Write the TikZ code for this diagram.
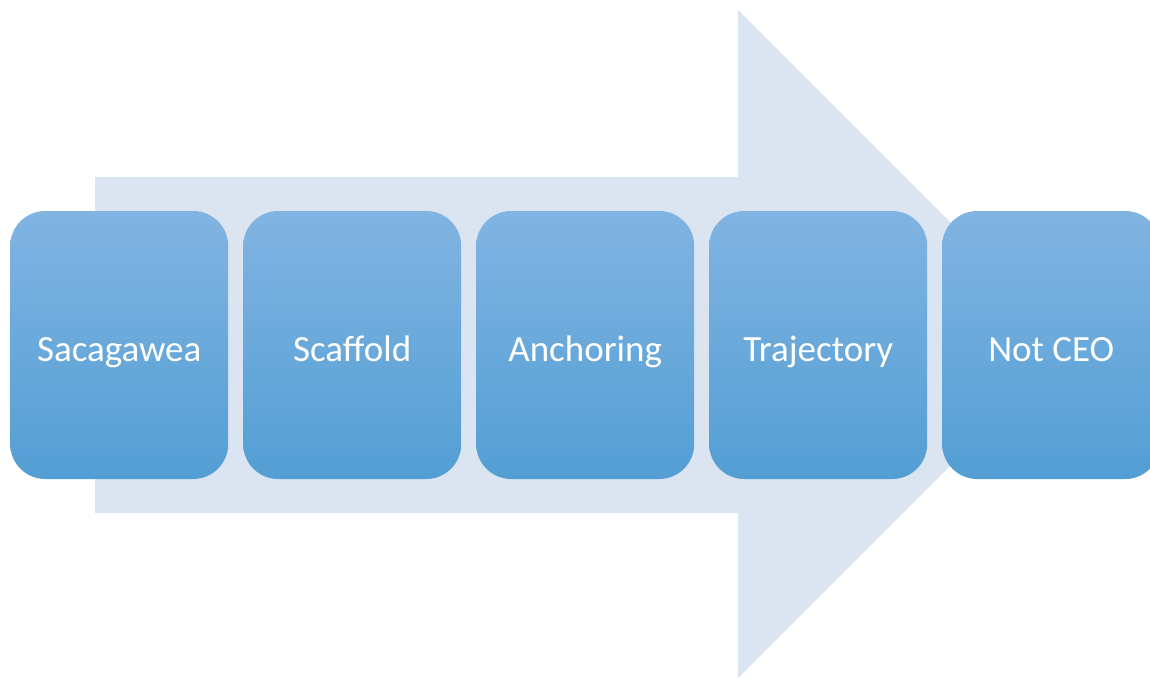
\documentclass[tikz,border=0pt]{standalone}
\usepackage{fontspec}
\setmainfont{Carlito}
\usetikzlibrary{matrix}

\definecolor{arrowfill}{HTML}{DBE5F1}
\definecolor{boxtop}{HTML}{81B4E2}
\definecolor{boxmid}{HTML}{6BAEE2}
\definecolor{boxbot}{HTML}{539ED4}

\begin{document}
\begin{tikzpicture}[x=1pt, y=-1pt,
    stepbox/.style={rounded corners=35pt, minimum width=218pt, minimum height=268pt,
        top color=boxtop, middle color=boxmid, bottom color=boxbot,
        text=white, font=\fontsize{37}{40}\selectfont,
        text height=34pt, text depth=2pt, inner sep=0pt, anchor=center}]
\useasboundingbox (0,0) rectangle (1150,678);
\clip (0,0) rectangle (1150,678);

% big pale arrow behind the steps
\fill[arrowfill] (95,177) -- (738,177) -- (738,10) -- (1072,344)
    -- (738,678) -- (738,513) -- (95,513) -- cycle;

\matrix[matrix of nodes, nodes={stepbox},
        column sep=15pt, inner sep=0pt, anchor=west] (m) at (10,345) {
    Sacagawea & Scaffold & Anchoring & Trajectory & Not CEO \\
};
\end{tikzpicture}
\end{document}
